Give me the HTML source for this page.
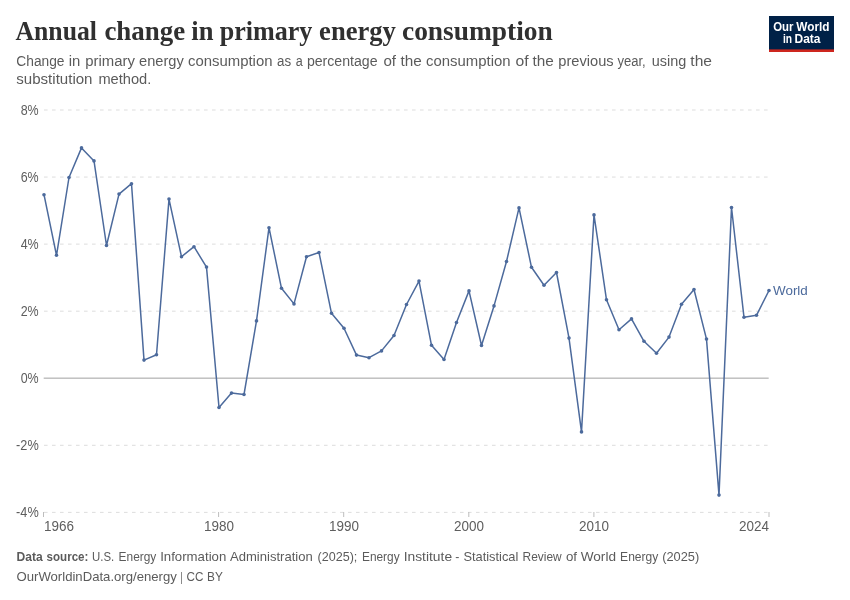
<!DOCTYPE html>
<html lang="en"><head><meta charset="utf-8"><title>Annual change in primary energy consumption</title>
<style>
html,body{margin:0;padding:0;background:#fff;}
body{width:850px;height:600px;overflow:hidden;position:relative;font-family:"Liberation Sans",sans-serif;}
svg{position:absolute;left:0;top:0;}
.title{font-family:"Liberation Serif",serif;font-weight:bold;font-size:28px;fill:#303030;}
.sub{font-size:14px;fill:#5b5b5b;}
.ax{font-size:14px;fill:#5e5e5e;}
.foot{font-size:12.8px;fill:#5b5b5b;}
.logo{font-size:12.3px;font-weight:bold;fill:#fff;}
.lbl{font-size:13.1px;fill:#4c6a9c;}
</style></head><body>
<svg width="850" height="600" viewBox="0 0 850 600">
<rect width="850" height="600" fill="#fff"/>
<text class="title" x="15.5" y="40.4" textLength="81.4" lengthAdjust="spacingAndGlyphs">Annual</text><text class="title" x="104.4" y="40.4" textLength="80.8" lengthAdjust="spacingAndGlyphs">change</text><text class="title" x="191.3" y="40.4" textLength="22.1" lengthAdjust="spacingAndGlyphs">in</text><text class="title" x="219.7" y="40.4" textLength="92.7" lengthAdjust="spacingAndGlyphs">primary</text><text class="title" x="319.1" y="40.4" textLength="76.8" lengthAdjust="spacingAndGlyphs">energy</text><text class="title" x="402.0" y="40.4" textLength="150.7" lengthAdjust="spacingAndGlyphs">consumption</text>
<text class="sub" x="16.3" y="66.3" textLength="48.2" lengthAdjust="spacingAndGlyphs">Change</text><text class="sub" x="68.8" y="66.3" textLength="11.6" lengthAdjust="spacingAndGlyphs">in</text><text class="sub" x="85.3" y="66.3" textLength="49.7" lengthAdjust="spacingAndGlyphs">primary</text><text class="sub" x="139.1" y="66.3" textLength="44.7" lengthAdjust="spacingAndGlyphs">energy</text><text class="sub" x="188.0" y="66.3" textLength="84.5" lengthAdjust="spacingAndGlyphs">consumption</text><text class="sub" x="277.1" y="66.3" textLength="14.1" lengthAdjust="spacingAndGlyphs">as</text><text class="sub" x="295.8" y="66.3" textLength="7.0" lengthAdjust="spacingAndGlyphs">a</text><text class="sub" x="306.9" y="66.3" textLength="70.7" lengthAdjust="spacingAndGlyphs">percentage</text><text class="sub" x="383.4" y="66.3" textLength="12.6" lengthAdjust="spacingAndGlyphs">of</text><text class="sub" x="400.5" y="66.3" textLength="21.3" lengthAdjust="spacingAndGlyphs">the</text><text class="sub" x="426.1" y="66.3" textLength="84.5" lengthAdjust="spacingAndGlyphs">consumption</text><text class="sub" x="515.5" y="66.3" textLength="13.1" lengthAdjust="spacingAndGlyphs">of</text><text class="sub" x="532.5" y="66.3" textLength="21.3" lengthAdjust="spacingAndGlyphs">the</text><text class="sub" x="558.3" y="66.3" textLength="55.3" lengthAdjust="spacingAndGlyphs">previous</text><text class="sub" x="617.4" y="66.3" textLength="28.3" lengthAdjust="spacingAndGlyphs">year,</text><text class="sub" x="651.7" y="66.3" textLength="34.5" lengthAdjust="spacingAndGlyphs">using</text><text class="sub" x="690.3" y="66.3" textLength="21.7" lengthAdjust="spacingAndGlyphs">the</text>
<text class="sub" x="16.3" y="83.9" textLength="76.2" lengthAdjust="spacingAndGlyphs">substitution</text><text class="sub" x="98.4" y="83.9" textLength="52.9" lengthAdjust="spacingAndGlyphs">method.</text>
<g>
<rect x="769" y="16" width="65" height="36" fill="#002147"/>
<rect x="769" y="49.4" width="65" height="2.6" fill="#ce261e"/>
<text class="logo" x="773.2" y="30.9" textLength="20.3" lengthAdjust="spacingAndGlyphs">Our</text><text class="logo" x="796.3" y="30.9" textLength="33.2" lengthAdjust="spacingAndGlyphs">World</text>
<text class="logo" x="782.9" y="42.6" textLength="9.1" lengthAdjust="spacingAndGlyphs">in</text><text class="logo" x="794.5" y="42.6" textLength="26.0" lengthAdjust="spacingAndGlyphs">Data</text>
</g>
<g stroke="#ddd" stroke-width="1" stroke-dasharray="3.6,4.4" fill="none"><line x1="44" x2="769" y1="110.0" y2="110.0"/><line x1="44" x2="769" y1="177.06" y2="177.06"/><line x1="44" x2="769" y1="244.12" y2="244.12"/><line x1="44" x2="769" y1="311.18" y2="311.18"/><line x1="44" x2="769" y1="445.3" y2="445.3"/><line x1="44" x2="769" y1="512.36" y2="512.36"/></g>
<line x1="43.7" x2="768.7" y1="378.15" y2="378.15" stroke="#a1a1a1" stroke-width="1"/>
<g stroke="#bdbdbd" stroke-width="1"><line x1="43.5" x2="43.5" y1="512" y2="517"/><line x1="218.6" x2="218.6" y1="512" y2="517"/><line x1="343.7" x2="343.7" y1="512" y2="517"/><line x1="468.8" x2="468.8" y1="512" y2="517"/><line x1="593.9" x2="593.9" y1="512" y2="517"/><line x1="769.0" x2="769.0" y1="512" y2="517"/></g>
<g class="ax"><text x="38.7" y="115" text-anchor="end" textLength="18.0" lengthAdjust="spacingAndGlyphs" >8%</text><text x="38.7" y="182" text-anchor="end" textLength="18.0" lengthAdjust="spacingAndGlyphs" >6%</text><text x="38.7" y="249" text-anchor="end" textLength="18.0" lengthAdjust="spacingAndGlyphs" >4%</text><text x="38.7" y="316" text-anchor="end" textLength="18.0" lengthAdjust="spacingAndGlyphs" >2%</text><text x="38.7" y="383" text-anchor="end" textLength="18.0" lengthAdjust="spacingAndGlyphs" >0%</text><text x="38.7" y="450" text-anchor="end" textLength="22.6" lengthAdjust="spacingAndGlyphs" >-2%</text><text x="38.7" y="517" text-anchor="end" textLength="22.6" lengthAdjust="spacingAndGlyphs" >-4%</text><text x="44" y="531" text-anchor="start" textLength="30" lengthAdjust="spacingAndGlyphs">1966</text><text x="219" y="531" text-anchor="middle" textLength="30" lengthAdjust="spacingAndGlyphs">1980</text><text x="344" y="531" text-anchor="middle" textLength="30" lengthAdjust="spacingAndGlyphs">1990</text><text x="469" y="531" text-anchor="middle" textLength="30" lengthAdjust="spacingAndGlyphs">2000</text><text x="594" y="531" text-anchor="middle" textLength="30" lengthAdjust="spacingAndGlyphs">2010</text><text x="769" y="531" text-anchor="end" textLength="30" lengthAdjust="spacingAndGlyphs">2024</text></g>
<polyline points="44.00,194.7 56.50,255.3 69.00,177.5 81.50,147.9 94.00,160.9 106.50,245.5 119.00,194.1 131.50,183.7 144.00,360.1 156.50,354.7 169.00,199.1 181.50,256.7 194.00,246.7 206.50,267.1 219.00,407.5 231.50,393.1 244.00,394.5 256.50,320.9 269.00,227.7 281.50,288.3 294.00,303.9 306.50,256.7 319.00,252.5 331.50,313.3 344.00,328.3 356.50,355.1 369.00,357.7 381.50,350.9 394.00,335.5 406.50,304.5 419.00,281.1 431.50,345.3 444.00,359.5 456.50,322.5 469.00,290.9 481.50,345.5 494.00,305.9 506.50,261.5 519.00,207.9 531.50,267.3 544.00,285.3 556.50,272.5 569.00,338.1 581.50,431.9 594.00,214.9 606.50,299.8 619.00,329.7 631.50,318.9 644.00,341.3 656.50,353.3 669.00,337.1 681.50,304.3 694.00,289.5 706.50,339.1 719.00,495.1 731.50,207.5 744.00,317.3 756.50,315.3 769.00,290.5" fill="none" stroke="#4c6a9c" stroke-width="1.5" stroke-linejoin="round" stroke-linecap="round"/>
<g fill="#4c6a9c"><circle cx="44.00" cy="194.7" r="1.8"/><circle cx="56.50" cy="255.3" r="1.8"/><circle cx="69.00" cy="177.5" r="1.8"/><circle cx="81.50" cy="147.9" r="1.8"/><circle cx="94.00" cy="160.9" r="1.8"/><circle cx="106.50" cy="245.5" r="1.8"/><circle cx="119.00" cy="194.1" r="1.8"/><circle cx="131.50" cy="183.7" r="1.8"/><circle cx="144.00" cy="360.1" r="1.8"/><circle cx="156.50" cy="354.7" r="1.8"/><circle cx="169.00" cy="199.1" r="1.8"/><circle cx="181.50" cy="256.7" r="1.8"/><circle cx="194.00" cy="246.7" r="1.8"/><circle cx="206.50" cy="267.1" r="1.8"/><circle cx="219.00" cy="407.5" r="1.8"/><circle cx="231.50" cy="393.1" r="1.8"/><circle cx="244.00" cy="394.5" r="1.8"/><circle cx="256.50" cy="320.9" r="1.8"/><circle cx="269.00" cy="227.7" r="1.8"/><circle cx="281.50" cy="288.3" r="1.8"/><circle cx="294.00" cy="303.9" r="1.8"/><circle cx="306.50" cy="256.7" r="1.8"/><circle cx="319.00" cy="252.5" r="1.8"/><circle cx="331.50" cy="313.3" r="1.8"/><circle cx="344.00" cy="328.3" r="1.8"/><circle cx="356.50" cy="355.1" r="1.8"/><circle cx="369.00" cy="357.7" r="1.8"/><circle cx="381.50" cy="350.9" r="1.8"/><circle cx="394.00" cy="335.5" r="1.8"/><circle cx="406.50" cy="304.5" r="1.8"/><circle cx="419.00" cy="281.1" r="1.8"/><circle cx="431.50" cy="345.3" r="1.8"/><circle cx="444.00" cy="359.5" r="1.8"/><circle cx="456.50" cy="322.5" r="1.8"/><circle cx="469.00" cy="290.9" r="1.8"/><circle cx="481.50" cy="345.5" r="1.8"/><circle cx="494.00" cy="305.9" r="1.8"/><circle cx="506.50" cy="261.5" r="1.8"/><circle cx="519.00" cy="207.9" r="1.8"/><circle cx="531.50" cy="267.3" r="1.8"/><circle cx="544.00" cy="285.3" r="1.8"/><circle cx="556.50" cy="272.5" r="1.8"/><circle cx="569.00" cy="338.1" r="1.8"/><circle cx="581.50" cy="431.9" r="1.8"/><circle cx="594.00" cy="214.9" r="1.8"/><circle cx="606.50" cy="299.8" r="1.8"/><circle cx="619.00" cy="329.7" r="1.8"/><circle cx="631.50" cy="318.9" r="1.8"/><circle cx="644.00" cy="341.3" r="1.8"/><circle cx="656.50" cy="353.3" r="1.8"/><circle cx="669.00" cy="337.1" r="1.8"/><circle cx="681.50" cy="304.3" r="1.8"/><circle cx="694.00" cy="289.5" r="1.8"/><circle cx="706.50" cy="339.1" r="1.8"/><circle cx="719.00" cy="495.1" r="1.8"/><circle cx="731.50" cy="207.5" r="1.8"/><circle cx="744.00" cy="317.3" r="1.8"/><circle cx="756.50" cy="315.3" r="1.8"/><circle cx="769.00" cy="290.5" r="1.8"/></g>
<text class="lbl" x="773.0" y="295.4" textLength="34.8" lengthAdjust="spacingAndGlyphs">World</text>
<text class="foot" x="16.5" y="560.8" textLength="26.2" lengthAdjust="spacingAndGlyphs" font-weight="bold">Data</text><text class="foot" x="46.6" y="560.8" textLength="41.8" lengthAdjust="spacingAndGlyphs" font-weight="bold">source:</text><text class="foot" x="92.1" y="560.8" textLength="22.2" lengthAdjust="spacingAndGlyphs">U.S.</text><text class="foot" x="118.6" y="560.8" textLength="37.7" lengthAdjust="spacingAndGlyphs">Energy</text><text class="foot" x="160.2" y="560.8" textLength="66.1" lengthAdjust="spacingAndGlyphs">Information</text><text class="foot" x="230.0" y="560.8" textLength="82.7" lengthAdjust="spacingAndGlyphs">Administration</text><text class="foot" x="317.5" y="560.8" textLength="39.8" lengthAdjust="spacingAndGlyphs">(2025);</text><text class="foot" x="362.0" y="560.8" textLength="37.6" lengthAdjust="spacingAndGlyphs">Energy</text><text class="foot" x="403.7" y="560.8" textLength="48.4" lengthAdjust="spacingAndGlyphs">Institute</text><text class="foot" x="455.3" y="560.8" textLength="4.1" lengthAdjust="spacingAndGlyphs">-</text><text class="foot" x="463.4" y="560.8" textLength="54.9" lengthAdjust="spacingAndGlyphs">Statistical</text><text class="foot" x="522.6" y="560.8" textLength="39.1" lengthAdjust="spacingAndGlyphs">Review</text><text class="foot" x="565.9" y="560.8" textLength="11.1" lengthAdjust="spacingAndGlyphs">of</text><text class="foot" x="580.7" y="560.8" textLength="35.3" lengthAdjust="spacingAndGlyphs">World</text><text class="foot" x="620.1" y="560.8" textLength="38.2" lengthAdjust="spacingAndGlyphs">Energy</text><text class="foot" x="662.2" y="560.8" textLength="37.0" lengthAdjust="spacingAndGlyphs">(2025)</text>
<text class="foot" x="16.5" y="580.7" textLength="160.3" lengthAdjust="spacingAndGlyphs">OurWorldinData.org/energy</text><text class="foot" x="180.4" y="580.7" textLength="2.2" lengthAdjust="spacingAndGlyphs">|</text><text class="foot" x="186.5" y="580.7" textLength="16.9" lengthAdjust="spacingAndGlyphs">CC</text><text class="foot" x="207.1" y="580.7" textLength="15.8" lengthAdjust="spacingAndGlyphs">BY</text>
</svg>
</body></html>
